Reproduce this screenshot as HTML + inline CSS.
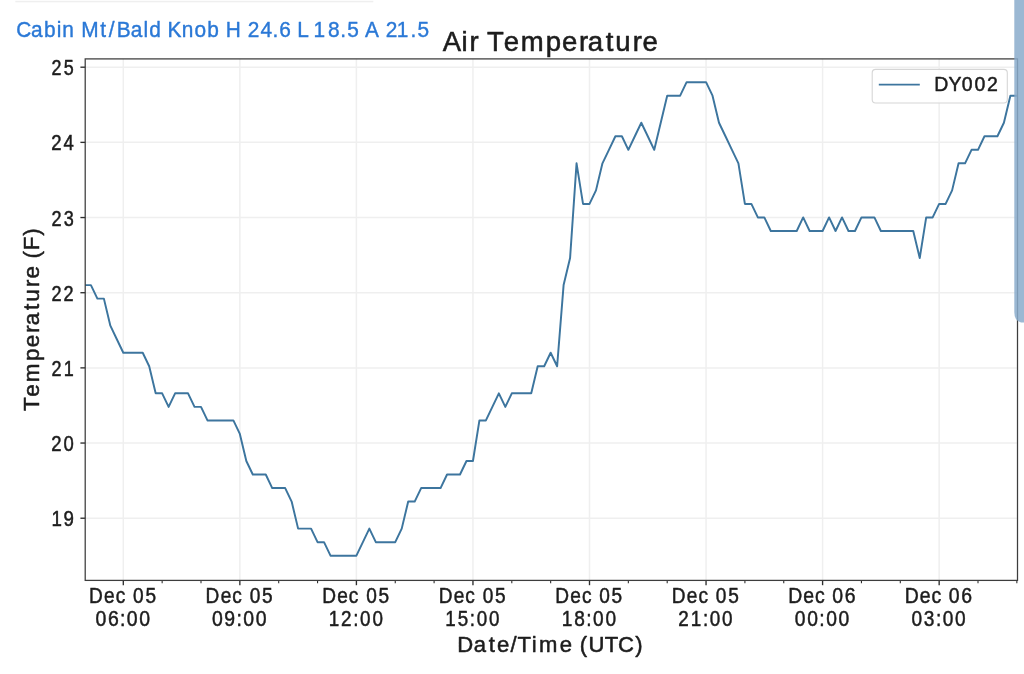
<!DOCTYPE html>
<html lang="en"><head><meta charset="utf-8"><title>Air Temperature</title>
<style>
html,body{margin:0;padding:0;background:#fff;}
body{width:1024px;height:674px;overflow:hidden;position:relative;font-family:"Liberation Sans",sans-serif;}
svg{position:absolute;left:0;top:0;display:block;}
svg text{font-family:"Liberation Sans",sans-serif;}
</style></head><body>
<svg width="1024" height="674" viewBox="0 0 1024 674">
<defs><filter id="soft" x="0" y="0" width="1024" height="674" filterUnits="userSpaceOnUse"><feGaussianBlur stdDeviation="0.4"/></filter></defs>
<rect x="0" y="0" width="1024" height="674" fill="#ffffff"/>
<g filter="url(#soft)">
<rect x="15.3" y="0.8" width="358" height="1.5" fill="#efefef"/>
<g stroke="#efefef" stroke-width="1.5" fill="none"><line x1="123.30" y1="58.90" x2="123.30" y2="580.40"/><line x1="239.85" y1="58.90" x2="239.85" y2="580.40"/><line x1="356.40" y1="58.90" x2="356.40" y2="580.40"/><line x1="472.95" y1="58.90" x2="472.95" y2="580.40"/><line x1="589.50" y1="58.90" x2="589.50" y2="580.40"/><line x1="706.05" y1="58.90" x2="706.05" y2="580.40"/><line x1="822.60" y1="58.90" x2="822.60" y2="580.40"/><line x1="939.15" y1="58.90" x2="939.15" y2="580.40"/><line x1="85.20" y1="518.22" x2="1017.50" y2="518.22"/><line x1="85.20" y1="443.05" x2="1017.50" y2="443.05"/><line x1="85.20" y1="367.88" x2="1017.50" y2="367.88"/><line x1="85.20" y1="292.71" x2="1017.50" y2="292.71"/><line x1="85.20" y1="217.54" x2="1017.50" y2="217.54"/><line x1="85.20" y1="142.37" x2="1017.50" y2="142.37"/><line x1="85.20" y1="67.20" x2="1017.50" y2="67.20"/></g>
<clipPath id="ax"><rect x="85.20" y="58.90" width="932.30" height="521.50"/></clipPath>
<polyline clip-path="url(#ax)" fill="none" stroke="#3c759e" stroke-width="1.95" stroke-linejoin="round" stroke-linecap="butt" points="84.45,285.10 90.92,285.10 97.40,298.63 103.88,298.63 110.35,325.69 116.83,339.22 123.30,352.75 129.78,352.75 136.25,352.75 142.72,352.75 149.20,366.28 155.68,393.34 162.15,393.34 168.62,406.87 175.10,393.34 181.57,393.34 188.05,393.34 194.52,406.87 201.00,406.87 207.47,420.40 213.95,420.40 220.43,420.40 226.90,420.40 233.38,420.40 239.85,433.93 246.32,460.99 252.80,474.52 259.27,474.52 265.75,474.52 272.22,488.05 278.70,488.05 285.18,488.05 291.65,501.58 298.12,528.64 304.60,528.64 311.07,528.64 317.55,542.17 324.02,542.17 330.50,555.70 336.97,555.70 343.45,555.70 349.92,555.70 356.40,555.70 362.88,542.17 369.35,528.64 375.82,542.17 382.30,542.17 388.77,542.17 395.25,542.17 401.72,528.64 408.20,501.58 414.67,501.58 421.15,488.05 427.62,488.05 434.10,488.05 440.57,488.05 447.05,474.52 453.52,474.52 460.00,474.52 466.47,460.99 472.95,460.99 479.42,420.40 485.90,420.40 492.37,406.87 498.85,393.34 505.32,406.87 511.80,393.34 518.27,393.34 524.75,393.34 531.23,393.34 537.70,366.28 544.17,366.28 550.65,352.75 557.12,366.28 563.60,285.10 570.08,258.04 576.55,163.33 583.02,203.92 589.50,203.92 595.98,190.39 602.45,163.33 608.93,149.80 615.40,136.27 621.88,136.27 628.35,149.80 634.83,136.27 641.30,122.74 647.77,136.27 654.25,149.80 660.73,122.74 667.20,95.68 673.68,95.68 680.15,95.68 686.62,82.15 693.10,82.15 699.58,82.15 706.05,82.15 712.52,95.68 719.00,122.74 725.48,136.27 731.95,149.80 738.42,163.33 744.90,203.92 751.38,203.92 757.85,217.45 764.33,217.45 770.80,230.98 777.27,230.98 783.75,230.98 790.23,230.98 796.70,230.98 803.17,217.45 809.65,230.98 816.12,230.98 822.60,230.98 829.08,217.45 835.55,230.98 842.02,217.45 848.50,230.98 854.98,230.98 861.45,217.45 867.92,217.45 874.40,217.45 880.88,230.98 887.35,230.98 893.83,230.98 900.30,230.98 906.77,230.98 913.25,230.98 919.73,258.04 926.20,217.45 932.67,217.45 939.15,203.92 945.62,203.92 952.10,190.39 958.58,163.33 965.05,163.33 971.52,149.80 978.00,149.80 984.48,136.27 990.95,136.27 997.42,136.27 1003.90,122.74 1010.38,95.68 1016.85,95.68"/>
<g stroke="#2e2e2e" stroke-width="1.35" fill="none"><line x1="123.30" y1="580.40" x2="123.30" y2="585.20"/><line x1="239.85" y1="580.40" x2="239.85" y2="585.20"/><line x1="356.40" y1="580.40" x2="356.40" y2="585.20"/><line x1="472.95" y1="580.40" x2="472.95" y2="585.20"/><line x1="589.50" y1="580.40" x2="589.50" y2="585.20"/><line x1="706.05" y1="580.40" x2="706.05" y2="585.20"/><line x1="822.60" y1="580.40" x2="822.60" y2="585.20"/><line x1="939.15" y1="580.40" x2="939.15" y2="585.20"/><line x1="162.15" y1="580.40" x2="162.15" y2="583.30" stroke-width="1.1"/><line x1="201.00" y1="580.40" x2="201.00" y2="583.30" stroke-width="1.1"/><line x1="278.70" y1="580.40" x2="278.70" y2="583.30" stroke-width="1.1"/><line x1="317.55" y1="580.40" x2="317.55" y2="583.30" stroke-width="1.1"/><line x1="395.25" y1="580.40" x2="395.25" y2="583.30" stroke-width="1.1"/><line x1="434.10" y1="580.40" x2="434.10" y2="583.30" stroke-width="1.1"/><line x1="511.80" y1="580.40" x2="511.80" y2="583.30" stroke-width="1.1"/><line x1="550.65" y1="580.40" x2="550.65" y2="583.30" stroke-width="1.1"/><line x1="628.35" y1="580.40" x2="628.35" y2="583.30" stroke-width="1.1"/><line x1="667.20" y1="580.40" x2="667.20" y2="583.30" stroke-width="1.1"/><line x1="744.90" y1="580.40" x2="744.90" y2="583.30" stroke-width="1.1"/><line x1="783.75" y1="580.40" x2="783.75" y2="583.30" stroke-width="1.1"/><line x1="861.45" y1="580.40" x2="861.45" y2="583.30" stroke-width="1.1"/><line x1="900.30" y1="580.40" x2="900.30" y2="583.30" stroke-width="1.1"/><line x1="978.00" y1="580.40" x2="978.00" y2="583.30" stroke-width="1.1"/><line x1="1016.85" y1="580.40" x2="1016.85" y2="583.30" stroke-width="1.1"/><line x1="80.40" y1="518.22" x2="85.20" y2="518.22"/><line x1="80.40" y1="443.05" x2="85.20" y2="443.05"/><line x1="80.40" y1="367.88" x2="85.20" y2="367.88"/><line x1="80.40" y1="292.71" x2="85.20" y2="292.71"/><line x1="80.40" y1="217.54" x2="85.20" y2="217.54"/><line x1="80.40" y1="142.37" x2="85.20" y2="142.37"/><line x1="80.40" y1="67.20" x2="85.20" y2="67.20"/></g>
<rect x="85.20" y="58.90" width="932.30" height="521.50" fill="none" stroke="#3c3c3c" stroke-width="1.25"/>
<rect x="872.2" y="69.4" width="135.1" height="33.6" rx="3.5" ry="3.5" fill="#ffffff" fill-opacity="0.85" stroke="#d6d6d6" stroke-width="1.1"/>
<line x1="878.8" y1="84.6" x2="919.8" y2="84.6" stroke="#3c759e" stroke-width="1.95"/>
<text transform="translate(933.50,90.90) scale(0.9265,1)" x="0.73 16.08 30.62 44.28 57.66" y="0" font-size="21.03" fill="#1c1c1c" stroke="#1c1c1c" stroke-width="0.50" stroke-linejoin="round">DY002</text>
<text transform="translate(443.00,50.60) scale(1.0247,1)" x="-0.22 18.07 25.87 35.11 42.85 59.31 75.86 100.23 116.11 132.66 141.30 158.78 168.17 185.08 194.76" y="0" font-size="26.85" fill="#1c1c1c" stroke="#1c1c1c" stroke-width="0.55" stroke-linejoin="round">Air Temperature</text>
<text transform="translate(16.40,36.80) scale(0.9604,1)" x="-0.13 15.30 28.87 42.00 47.73 60.29 67.42 87.22 96.16 104.41 118.96 132.36 138.22 150.98 157.22 172.17 185.44 198.83 211.46 217.88 234.20 240.77 254.06 266.60 273.57 286.13 292.46 304.73 309.45 324.48 337.13 344.42 356.66 363.00 377.93 384.49 395.93 410.33 417.61" y="0" font-size="21.72" fill="#2a78d6" stroke="#2a78d6" stroke-width="0.40" stroke-linejoin="round">Cabin Mt/Bald Knob H 24.6 L 18.5 A 21.5</text>
<text transform="translate(50.70,526.22) scale(0.8722,1)" x="0.83 14.64" y="0" font-size="21.45" fill="#1c1c1c" stroke="#1c1c1c" stroke-width="0.50" stroke-linejoin="round">19</text>
<text transform="translate(50.70,451.05) scale(0.8625,1)" x="0.71 14.94" y="0" font-size="21.45" fill="#1c1c1c" stroke="#1c1c1c" stroke-width="0.50" stroke-linejoin="round">20</text>
<text transform="translate(50.70,375.88) scale(0.8387,1)" x="0.90 15.44" y="0" font-size="21.45" fill="#1c1c1c" stroke="#1c1c1c" stroke-width="0.50" stroke-linejoin="round">21</text>
<text transform="translate(50.70,300.71) scale(0.8441,1)" x="0.86 15.10" y="0" font-size="21.45" fill="#1c1c1c" stroke="#1c1c1c" stroke-width="0.50" stroke-linejoin="round">22</text>
<text transform="translate(50.70,225.54) scale(0.8434,1)" x="0.86 15.43" y="0" font-size="21.45" fill="#1c1c1c" stroke="#1c1c1c" stroke-width="0.50" stroke-linejoin="round">23</text>
<text transform="translate(50.70,150.37) scale(0.8643,1)" x="0.70 14.89" y="0" font-size="21.45" fill="#1c1c1c" stroke="#1c1c1c" stroke-width="0.50" stroke-linejoin="round">24</text>
<text transform="translate(50.70,75.20) scale(0.8355,1)" x="0.93 15.52" y="0" font-size="21.45" fill="#1c1c1c" stroke="#1c1c1c" stroke-width="0.50" stroke-linejoin="round">25</text>
<text transform="translate(88.42,603.20) scale(0.8802,1)" x="0.74 17.83 31.01 42.76 50.78 64.75" y="0" font-size="21.69" fill="#1c1c1c" stroke="#1c1c1c" stroke-width="0.50" stroke-linejoin="round">Dec 05</text>
<text transform="translate(94.74,625.90) scale(0.8964,1)" x="0.87 14.67 28.25 35.78 49.58" y="0" font-size="21.69" fill="#1c1c1c" stroke="#1c1c1c" stroke-width="0.50" stroke-linejoin="round">06:00</text>
<text transform="translate(204.97,603.20) scale(0.8802,1)" x="0.74 17.83 31.01 42.76 50.78 64.75" y="0" font-size="21.69" fill="#1c1c1c" stroke="#1c1c1c" stroke-width="0.50" stroke-linejoin="round">Dec 05</text>
<text transform="translate(211.29,625.90) scale(0.8959,1)" x="0.87 14.61 28.26 35.80 49.61" y="0" font-size="21.69" fill="#1c1c1c" stroke="#1c1c1c" stroke-width="0.50" stroke-linejoin="round">09:00</text>
<text transform="translate(321.52,603.20) scale(0.8802,1)" x="0.74 17.83 31.01 42.76 50.78 64.75" y="0" font-size="21.69" fill="#1c1c1c" stroke="#1c1c1c" stroke-width="0.50" stroke-linejoin="round">Dec 05</text>
<text transform="translate(327.84,625.90) scale(0.8697,1)" x="0.98 15.01 29.21 37.06 51.29" y="0" font-size="21.69" fill="#1c1c1c" stroke="#1c1c1c" stroke-width="0.50" stroke-linejoin="round">12:00</text>
<text transform="translate(438.07,603.20) scale(0.8802,1)" x="0.74 17.83 31.01 42.76 50.78 64.75" y="0" font-size="21.69" fill="#1c1c1c" stroke="#1c1c1c" stroke-width="0.50" stroke-linejoin="round">Dec 05</text>
<text transform="translate(444.39,625.90) scale(0.8655,1)" x="1.02 15.32 29.36 37.27 51.57" y="0" font-size="21.69" fill="#1c1c1c" stroke="#1c1c1c" stroke-width="0.50" stroke-linejoin="round">15:00</text>
<text transform="translate(554.62,603.20) scale(0.8802,1)" x="0.74 17.83 31.01 42.76 50.78 64.75" y="0" font-size="21.69" fill="#1c1c1c" stroke="#1c1c1c" stroke-width="0.50" stroke-linejoin="round">Dec 05</text>
<text transform="translate(560.94,625.90) scale(0.8807,1)" x="0.89 15.04 28.81 36.53 50.57" y="0" font-size="21.69" fill="#1c1c1c" stroke="#1c1c1c" stroke-width="0.50" stroke-linejoin="round">18:00</text>
<text transform="translate(671.17,603.20) scale(0.8802,1)" x="0.74 17.83 31.01 42.76 50.78 64.75" y="0" font-size="21.69" fill="#1c1c1c" stroke="#1c1c1c" stroke-width="0.50" stroke-linejoin="round">Dec 05</text>
<text transform="translate(677.49,625.90) scale(0.8697,1)" x="0.78 15.21 29.21 37.06 51.29" y="0" font-size="21.69" fill="#1c1c1c" stroke="#1c1c1c" stroke-width="0.50" stroke-linejoin="round">21:00</text>
<text transform="translate(787.72,603.20) scale(0.8965,1)" x="0.58 17.39 30.34 41.98 49.75 63.55" y="0" font-size="21.69" fill="#1c1c1c" stroke="#1c1c1c" stroke-width="0.50" stroke-linejoin="round">Dec 06</text>
<text transform="translate(794.04,625.90) scale(0.8892,1)" x="0.92 14.83 28.50 36.12 50.03" y="0" font-size="21.69" fill="#1c1c1c" stroke="#1c1c1c" stroke-width="0.50" stroke-linejoin="round">00:00</text>
<text transform="translate(904.27,603.20) scale(0.8965,1)" x="0.58 17.39 30.34 41.98 49.75 63.55" y="0" font-size="21.69" fill="#1c1c1c" stroke="#1c1c1c" stroke-width="0.50" stroke-linejoin="round">Dec 06</text>
<text transform="translate(910.59,625.90) scale(0.8802,1)" x="0.99 15.07 28.82 36.55 50.60" y="0" font-size="21.69" fill="#1c1c1c" stroke="#1c1c1c" stroke-width="0.50" stroke-linejoin="round">03:00</text>
<text transform="translate(456.60,651.80) scale(1.0263,1)" x="0.65 16.61 31.27 39.31 52.60 59.32 73.17 80.24 100.47 113.09 120.11 128.65 144.45 157.35 174.00" y="0" font-size="21.52" fill="#1c1c1c" stroke="#1c1c1c" stroke-width="0.50" stroke-linejoin="round">Date/Time (UTC)</text>
<text transform="translate(38.70,411.00) rotate(-90) scale(1.0440,1)" x="-0.04 13.68 27.63 47.88 61.13 74.88 82.19 96.65 104.62 118.67 126.83 139.33 146.17 154.00 167.86" y="0" font-size="21.52" fill="#1c1c1c" stroke="#1c1c1c" stroke-width="0.50" stroke-linejoin="round">Temperature (F)</text>
</g>
<path d="M1014.3,0 L1024,0 L1024,322.5 L1021,322.5 Q1014.3,321 1014.3,312 Z" fill="#8aaccb" fill-opacity="0.85"/>
</svg></body></html>
